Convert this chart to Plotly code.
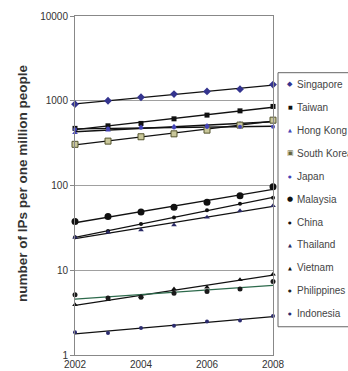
import numpy as np
import plotly.graph_objects as go

# ---- data ----
years = [2002, 2003, 2004, 2005, 2006, 2007, 2008]
singapore = [910, 1000, 1100, 1200, 1290, 1370, 1550]
taiwan = [472, 506, 540, 612, 677, 760, 857]
hong_kong = [420, 450, 490, 500, 510, 540, 560]
south_korea = [306, 334, 376, 407, 450, 516, 590]
japan = [460, 470, 480, 485, 490, 495, 495]
malaysia = [37.5, 43, 48.7, 55.4, 63.4, 75.8, 96.8]
china = [24.5, 29.1, 35.2, 41.8, 51, 61, 71.8]
thailand = [24.5, 28.1, 29.9, 34.3, 42.2, 50.5, 57.8]
vietnam = [3.91, 4.48, 4.9, 5.99, 6.3, 7.7, 9.0]
philippines = [5.13, 4.69, 4.8, 5.37, 5.6, 5.99, 7.36]
indonesia = [1.85, 1.82, 2.08, 2.21, 2.49, 2.56, 2.88]

names = ["Singapore", "Taiwan", "Hong Kong", "South Korea", "Japan", "Malaysia",
         "China", "Thailand", "Vietnam", "Philippines", "Indonesia"]
series = [singapore, taiwan, hong_kong, south_korea, japan, malaysia,
          china, thailand, vietnam, philippines, indonesia]
y_tickvals = [1, 10, 100, 1000, 10000]
y_ticktext = ["1", "10", "100", "1000", "10000"]
x_tickvals = [2002, 2004, 2006, 2008]

# ---- styles ----
NAVY = "#34348f"
BLUE = "#4444b8"
styles = {
    "Singapore": dict(symbol="diamond", size=6, color=NAVY, line=dict(width=0)),
    "Taiwan": dict(symbol="square", size=5, color="#111111", line=dict(width=0)),
    "Hong Kong": dict(symbol="triangle-up", size=5, color=BLUE, line=dict(width=0)),
    "South Korea": dict(symbol="square", size=6, color="#c9c79a", line=dict(width=1, color="#55552e")),
    "Japan": dict(symbol="circle", size=4, color=BLUE, line=dict(width=0)),
    "Malaysia": dict(symbol="circle", size=7, color="#111111", line=dict(width=0)),
    "China": dict(symbol="circle", size=4, color="#111111", line=dict(width=0)),
    "Thailand": dict(symbol="triangle-up", size=5, color="#2a2a66", line=dict(width=0)),
    "Vietnam": dict(symbol="triangle-up", size=5, color="#111111", line=dict(width=0)),
    "Philippines": dict(symbol="circle", size=5, color="#1a1a1a", line=dict(width=0)),
    "Indonesia": dict(symbol="circle", size=4, color="#2c2c70", line=dict(width=0)),
}
trend_colors = {n: "#111111" for n in names}
trend_colors["Philippines"] = "#2d6a4c"
legend_glyph = {
    "Singapore": ("◆", NAVY, 7), "Taiwan": ("■", "#111", 5), "Hong Kong": ("▲", BLUE, 5),
    "South Korea": ("▣", "#66663a", 7), "Japan": ("●", BLUE, 4), "Malaysia": ("●", "#111", 7),
    "China": ("●", "#111", 4), "Thailand": ("▲", "#2a2a66", 5), "Vietnam": ("▲", "#111", 5),
    "Philippines": ("●", "#222", 4), "Indonesia": ("●", "#2c2c70", 4),
}

W, H = 348, 371
L, R, T, B = 75, 273, 15.7, 355.3

fig = go.Figure()
xs = np.array(years, dtype=float)
for n, v in zip(names, series):
    coef = np.polyfit(xs, np.log10(v), 1)
    fit = 10 ** np.polyval(coef, xs)
    fig.add_trace(go.Scatter(x=years, y=fit, mode="lines",
                             line=dict(color=trend_colors[n], width=1.3),
                             showlegend=False, hoverinfo="skip", cliponaxis=False))
for n, v in zip(names, series):
    fig.add_trace(go.Scatter(x=years, y=v, mode="markers", name=n,
                             marker=styles[n], showlegend=False, cliponaxis=False))


def px(x):
    """page x pixel -> paper coordinate"""
    return (x - L) / (R - L)


def py(y):
    """page y pixel -> paper coordinate"""
    return (B - y) / (B - T)


# legend box
fig.add_shape(type="rect", xref="paper", yref="paper",
              x0=px(278), x1=px(370), y0=py(327), y1=py(72.5),
              line=dict(color="#666666", width=1), fillcolor="white", layer="above")
for i, n in enumerate(names):
    yc = 84.3 + i * 22.97
    g, c, s = legend_glyph[n]
    fig.add_annotation(xref="paper", yref="paper", x=px(290), y=py(yc),
                       text=g, showarrow=False, xanchor="center", yanchor="middle",
                       font=dict(size=s, color=c, family="DejaVu Sans"))
    fig.add_annotation(xref="paper", yref="paper", x=px(295), y=py(yc),
                       text=n, showarrow=False, xanchor="left", yanchor="middle",
                       font=dict(size=10, color="#444444", family="Liberation Sans"))

# y-axis title
fig.add_annotation(xref="paper", yref="paper", x=px(22), y=py(183),
                   text="<b>number of IPs per one million people</b>", textangle=-90,
                   showarrow=False, xanchor="center", yanchor="middle",
                   font=dict(size=13.5, color="#333333", family="Liberation Sans"))

fig.update_layout(
    width=W, height=H,
    margin=dict(l=L, r=W - R, t=T, b=H - B),
    paper_bgcolor="white", plot_bgcolor="white",
    showlegend=False,
    font=dict(family="Liberation Sans", size=10, color="#333333"),
)
fig.update_xaxes(range=[2002, 2008], tickvals=x_tickvals, ticks="",
                 showgrid=False, showline=True, linecolor="#888888", linewidth=1,
                 mirror=True, automargin=False, zeroline=False,
                 tickfont=dict(size=10, color="#333333"))
fig.update_yaxes(type="log", range=[0, 4], tickvals=y_tickvals, ticktext=y_ticktext,
                 ticks="outside", ticklen=4, tickcolor="#888888",
                 showgrid=True, gridcolor="#a0a0a0", gridwidth=1,
                 showline=True, linecolor="#888888", linewidth=1, mirror=True,
                 automargin=False, zeroline=False,
                 tickfont=dict(size=10, color="#333333"))

fig.write_html("out.html", config={"displayModeBar": False},
               post_script="document.body.style.margin='0';document.body.style.overflow='hidden';")
